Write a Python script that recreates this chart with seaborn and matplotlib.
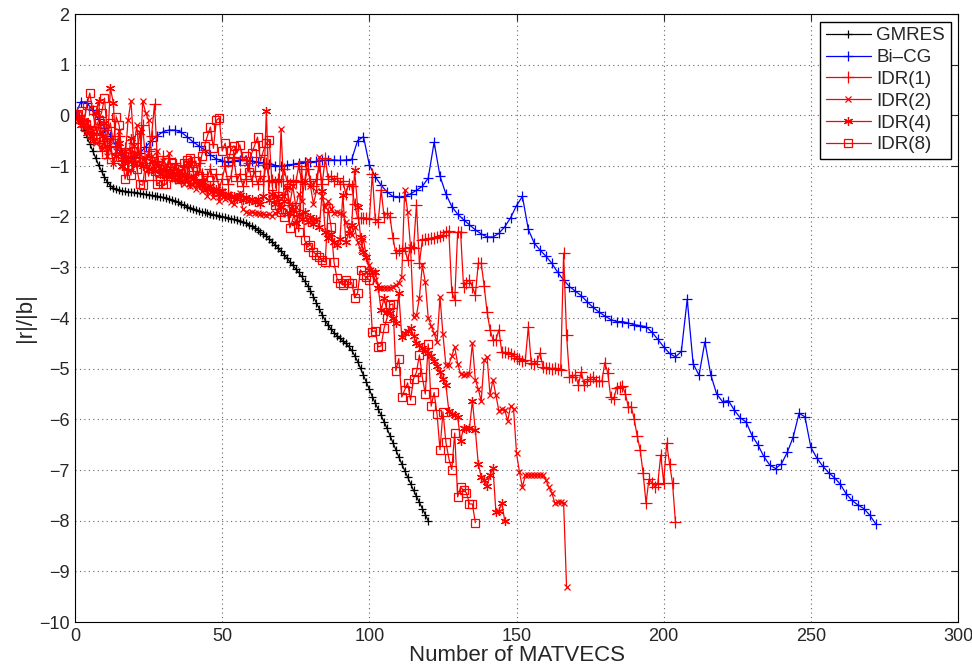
## Convergence of GMRES, Bi-CG and IDR(s): relative residual norm vs number of matvecs
import numpy as np
import seaborn as sns
import matplotlib.pyplot as plt

# log10 of |r|/|b|, one value per matvec (Bi-CG: one value per 2 matvecs)
gmres = [
    0.00, -0.06, -0.15, -0.28, -0.42, -0.56, -0.70, -0.84, -0.98, -1.10,
    -1.22, -1.32, -1.39, -1.43, -1.46, -1.48, -1.49, -1.50, -1.51, -1.52,
    -1.52, -1.53, -1.54, -1.55, -1.56, -1.57, -1.58, -1.59, -1.60, -1.61,
    -1.62, -1.64, -1.66, -1.68, -1.70, -1.72, -1.75, -1.77, -1.80, -1.82,
    -1.84, -1.86, -1.88, -1.90, -1.91, -1.93, -1.94, -1.96, -1.97, -1.98,
    -2.00, -2.01, -2.02, -2.04, -2.05, -2.07, -2.09, -2.11, -2.13, -2.16,
    -2.19, -2.22, -2.26, -2.30, -2.34, -2.39, -2.44, -2.50, -2.56, -2.62,
    -2.68, -2.75, -2.82, -2.89, -2.96, -3.03, -3.10, -3.18, -3.27, -3.36,
    -3.46, -3.58, -3.70, -3.82, -3.94, -4.05, -4.14, -4.22, -4.29, -4.35,
    -4.40, -4.45, -4.50, -4.56, -4.64, -4.74, -4.86, -4.99, -5.13, -5.27,
    -5.41, -5.55, -5.68, -5.80, -5.92, -6.05, -6.18, -6.32, -6.46, -6.60,
    -6.74, -6.88, -7.01, -7.14, -7.27, -7.40, -7.52, -7.64, -7.76, -7.88,
    -8.00]

bicg = [
    0.00, 0.27, 0.25, 0.10, -0.08, -0.25, -0.40, -0.62, -0.78, -0.85,
    -0.82, -0.75, -0.62, -0.50, -0.40, -0.32, -0.29, -0.29, -0.33, -0.42,
    -0.52, -0.60, -0.68, -0.78, -0.86, -0.90, -0.92, -0.90, -0.88, -0.88,
    -0.90, -0.92, -0.94, -0.97, -0.99, -1.00, -0.98, -0.97, -0.95, -0.93,
    -0.92, -0.91, -0.89, -0.88, -0.88, -0.89, -0.88, -0.87, -0.50, -0.42,
    -0.98, -1.21, -1.38, -1.51, -1.60, -1.62, -1.60, -1.55, -1.48, -1.40,
    -1.24, -0.53, -1.20, -1.55, -1.80, -1.95, -2.06, -2.16, -2.26, -2.34,
    -2.40, -2.40, -2.33, -2.20, -2.02, -1.78, -1.60, -2.25, -2.52, -2.66,
    -2.78, -2.92, -3.10, -3.25, -3.38, -3.47, -3.56, -3.68, -3.79, -3.88,
    -3.96, -4.03, -4.07, -4.07, -4.10, -4.13, -4.15, -4.17, -4.28, -4.42,
    -4.57, -4.70, -4.77, -4.66, -3.63, -4.90, -5.13, -4.47, -5.12, -5.50,
    -5.65, -5.63, -5.82, -5.97, -6.05, -6.32, -6.50, -6.73, -6.90, -6.97,
    -6.88, -6.65, -6.35, -5.88, -5.95, -6.55, -6.76, -6.92, -7.05, -7.15,
    -7.28, -7.47, -7.60, -7.69, -7.76, -7.89, -8.06]

idr1 = [
    0.00, -0.05, -0.15, -0.10, -0.30, -0.22, -0.45, -0.35, -0.55, -0.70,
    -0.50, -0.85, -0.60, -0.95, -0.75, -0.40, -0.90, -0.65, -1.05, -0.80,
    -0.55, -1.00, -0.85, -0.20, -0.95, -0.70, -0.40, 0.22, -0.90, -1.10,
    -0.80, -1.05, -0.85, -1.20, -0.95, -1.15, -1.30, -1.00, -1.20, -0.90,
    -1.10, -1.25, -0.95, -1.15, -1.40, -1.20, -1.05, -1.30, -1.15, -1.45,
    -1.25, -1.00, -1.35, -1.20, -0.85, -1.30, -1.15, -1.40, -1.25, -0.95,
    -1.30, -1.10, -1.35, -1.20, -1.30, -0.95, -1.30, -1.28, -1.32, -1.25,
    -1.30, -1.05, -1.30, -1.35, -1.28, -1.32, -1.00, -1.30, -1.35, -1.05,
    -1.30, -1.40, -1.25, -1.00, -1.35, -0.84, -1.25, -1.20, -1.30, -1.24,
    -1.35, -1.30, -1.55, -1.35, -1.40, -1.75, -2.03, -2.03, -2.02, -2.03,
    -2.05, -1.15, -2.05, -2.10, -1.47, -2.00, -1.93, -2.00, -2.42, -2.72,
    -2.66, -2.67, -2.62, -2.86, -2.60, -2.62, -1.77, -2.92, -2.46, -2.44,
    -2.45, -2.42, -2.43, -2.40, -2.38, -2.36, -2.30, -2.28, -3.48, -3.65,
    -2.30, -2.30, -3.39, -3.30, -3.25, -3.38, -3.55, -2.92, -2.92, -3.37,
    -3.88, -4.23, -4.43, -4.43, -4.23, -4.67, -4.68, -4.70, -4.72, -4.74,
    -4.78, -4.80, -4.85, -4.82, -4.18, -4.89, -4.90, -4.85, -4.69, -4.97,
    -4.98, -4.99, -5.00, -4.99, -5.00, -5.02, -2.72, -4.34, -5.16, -5.16,
    -5.12, -5.32, -5.06, -5.32, -5.25, -5.20, -5.16, -5.24, -5.24, -5.25,
    -4.88, -5.08, -5.56, -5.60, -5.38, -5.36, -5.34, -5.50, -5.76, -5.75,
    -6.00, -6.33, -6.60, -7.06, -7.65, -7.18, -7.25, -7.34, -7.27, -6.70,
    -7.25, -6.47, -6.88, -7.26, -8.03]

idr2 = [
    0.00, -0.10, -0.05, -0.25, -0.15, -0.40, -0.30, -0.55, -0.20, -0.65,
    -0.45, -0.80, -0.50, -0.95, -0.70, -0.30, -1.00, -0.85, -0.10, 0.28,
    -0.60, -0.20, -0.95, 0.28, 0.05, -0.10, -0.80, -1.05, -0.70, -1.15,
    -0.90, -1.20, -0.75, -1.25, -1.00, -1.30, -1.10, -1.35, -0.95, -1.40,
    -1.20, -1.45, -1.30, -1.50, -1.25, -1.60, -1.40, -1.62, -1.45, -1.70,
    -1.50, -1.65, -1.55, -1.72, -1.74, -1.60, -1.54, -1.85, -1.90, -1.92,
    -1.90, -1.93, -1.92, -1.95, -1.94, -1.96, -1.95, -1.98, -1.93, -1.90,
    -0.27, -1.60, -1.45, -1.75, -1.40, -1.80, -1.55, -1.70, -1.30, -0.88,
    -1.40, -1.75, -1.50, -0.82, -1.60, -1.80, -1.70, -1.85, -1.93, -1.90,
    -1.93, -1.95, -2.10, -2.25, -2.37, -2.20, -2.50, -2.65, -2.45, -2.80,
    -2.95, -3.10, -3.25, -3.35, -3.41, -3.40, -3.41, -3.40, -3.38, -3.35,
    -3.30, -3.19, -1.47, -1.90, -2.60, -3.98, -3.95, -3.60, -2.95, -3.29,
    -4.00, -4.15, -4.30, -4.48, -3.58, -4.32, -4.93, -4.93, -4.75, -4.57,
    -4.90, -5.10, -5.12, -5.10, -5.10, -4.50, -5.22, -5.40, -5.64, -4.83,
    -4.77, -5.52, -5.22, -5.52, -5.83, -5.80, -5.82, -6.03, -5.74, -5.80,
    -6.67, -7.04, -7.34, -7.10, -7.10, -7.10, -7.10, -7.10, -7.10, -7.10,
    -7.20, -7.34, -7.45, -7.65, -7.64, -7.63, -7.65, -9.31]

idr4 = [
    0.00, -0.05, -0.20, -0.10, -0.35, -0.25, -0.50, 0.05, 0.28, -0.40,
    -0.15, -0.60, 0.54, 0.25, -0.80, -0.55, -1.00, -0.70, -0.90, -0.45,
    -0.95, -0.75, -0.33, -1.00, -0.85, -1.05, -0.90, -1.10, -0.95, -1.15,
    -1.05, -1.20, -1.10, -1.15, -1.25, -1.10, -1.30, -1.20, -1.25, -1.35,
    -1.25, -1.31, -1.38, -1.30, -1.41, -1.45, -1.40, -1.50, -1.45, -1.55,
    -1.50, -1.60, -1.55, -1.62, -1.60, -1.65, -1.58, -1.68, -1.62, -1.70,
    -1.66, -1.72, -1.65, -1.75, -1.60, 0.08, -1.67, -1.55, -1.75, -1.60,
    -1.80, -1.70, -1.41, -1.93, -1.85, -2.13, -1.95, -2.05, -1.90, -2.10,
    -2.00, -2.15, -2.05, -2.20, -1.50, -2.30, -2.43, -2.35, -2.50, -2.56,
    -2.45, -1.57, -2.50, -2.33, -2.17, -1.08, -1.80, -2.40, -2.70, -2.80,
    -3.05, -3.10, -3.09, -3.40, -3.85, -3.60, -3.88, -3.90, -4.00, -4.10,
    -3.50, -4.37, -4.30, -4.25, -4.20, -4.35, -4.50, -4.53, -4.60, -4.65,
    -4.70, -4.75, -4.85, -4.95, -5.06, -5.20, -5.32, -5.83, -5.90, -5.92,
    -5.95, -6.42, -6.17, -6.20, -6.17, -5.64, -6.21, -6.88, -7.14, -7.20,
    -7.31, -7.10, -6.96, -7.83, -7.80, -7.65, -8.00]

idr8 = [
    0.00, 0.02, 0.08, -0.15, 0.20, 0.44, 0.10, -0.30, -0.10, 0.05,
    0.34, -0.37, -0.15, -0.55, -0.03, -0.20, -0.80, -1.26, -1.00, -1.18,
    -0.70, -1.05, -1.36, -1.38, -0.90, -1.20, -0.75, -1.10, -1.36, -1.30,
    -1.36, -1.36, -1.10, -0.95, -1.20, -1.05, -1.25, -0.95, -0.88, -0.85,
    -1.10, -0.90, -1.20, -0.80, -0.60, -0.40, -0.23, -0.65, -0.10, -0.05,
    -0.70, -0.55, -0.90, -0.68, -0.60, -0.75, -0.58, -0.90, -0.80, -1.12,
    -0.75, -0.60, -0.43, -0.90, -0.70, -0.55, -0.49, -1.40, -1.77, -1.60,
    -1.90, -2.00, -1.85, -2.22, -2.05, -1.80, -2.30, -0.98, -2.46, -2.60,
    -2.55, -2.70, -2.75, -2.80, -2.86, -2.90, -1.83, -2.20, -2.90, -3.22,
    -3.30, -3.35, -3.25, -3.30, -3.30, -3.60, -3.50, -3.05, -3.15, -3.20,
    -3.25, -4.27, -4.25, -4.57, -4.55, -4.20, -4.00, -3.74, -3.72, -5.04,
    -4.80, -5.56, -5.42, -5.28, -5.62, -5.20, -5.07, -4.73, -5.17, -5.50,
    -4.51, -5.74, -5.47, -5.90, -6.60, -5.85, -6.45, -6.77, -6.99, -6.27,
    -7.53, -7.34, -7.40, -7.45, -7.67, -7.67, -8.04]

labels = ['GMRES', 'Bi\u2013CG', 'IDR(1)', 'IDR(2)', 'IDR(4)', 'IDR(8)']
series = [gmres, bicg, idr1, idr2, idr4, idr8]
steps = [1, 2, 1, 1, 1, 1]
colors = ['black', 'blue', 'red', 'red', 'red', 'red']
markers = ['+', '+', '+', 'x', (6, 2, 0), 's']
msizes = [6, 7, 8, 4.5, 6.5, 6]

x_ticks = [0, 50, 100, 150, 200, 250, 300]
y_ticks = list(range(-10, 3))

sns.set_style('white')
plt.rcParams['font.family'] = ['Liberation Sans', 'DejaVu Sans']

fig = plt.figure(figsize=(9.72, 6.70), dpi=100)
ax = fig.add_axes([0.0772, 0.0716, 0.9084, 0.9075])

for vals, step, c, m, ms, lab in zip(series, steps, colors, markers, msizes, labels):
    xs = np.arange(len(vals)) * step
    sns.lineplot(x=xs, y=vals, ax=ax, color=c, lw=0.9, marker=m, markersize=ms,
                 markeredgecolor=c, markeredgewidth=0.9,
                 markerfacecolor='none' if m == 's' else c,
                 label=lab, estimator=None, sort=False)

ax.set_xlim(0, 300)
ax.set_ylim(-10, 2)
ax.set_xticks(x_ticks)
ax.set_yticks(y_ticks)
ax.grid(True, linestyle=(0, (1, 3)), color='0.4', lw=0.8)
ax.tick_params(direction='in', labelsize=13, length=5, top=True, right=True, pad=4)
for sp in ax.spines.values():
    sp.set_color('black')
    sp.set_linewidth(0.8)

ax.set_xlabel('Number of MATVECS', fontsize=16, labelpad=0)
ax.set_ylabel('|r|/|b|', fontsize=16, labelpad=2)

leg = ax.legend(loc='upper right', fontsize=13.5, fancybox=False, framealpha=1,
                edgecolor='black', handlelength=2.4, borderpad=0.3, labelspacing=0.25,
                handletextpad=0.3, borderaxespad=0.4)
leg.get_frame().set_linewidth(1.0)

plt.savefig('out.png', dpi=100)
